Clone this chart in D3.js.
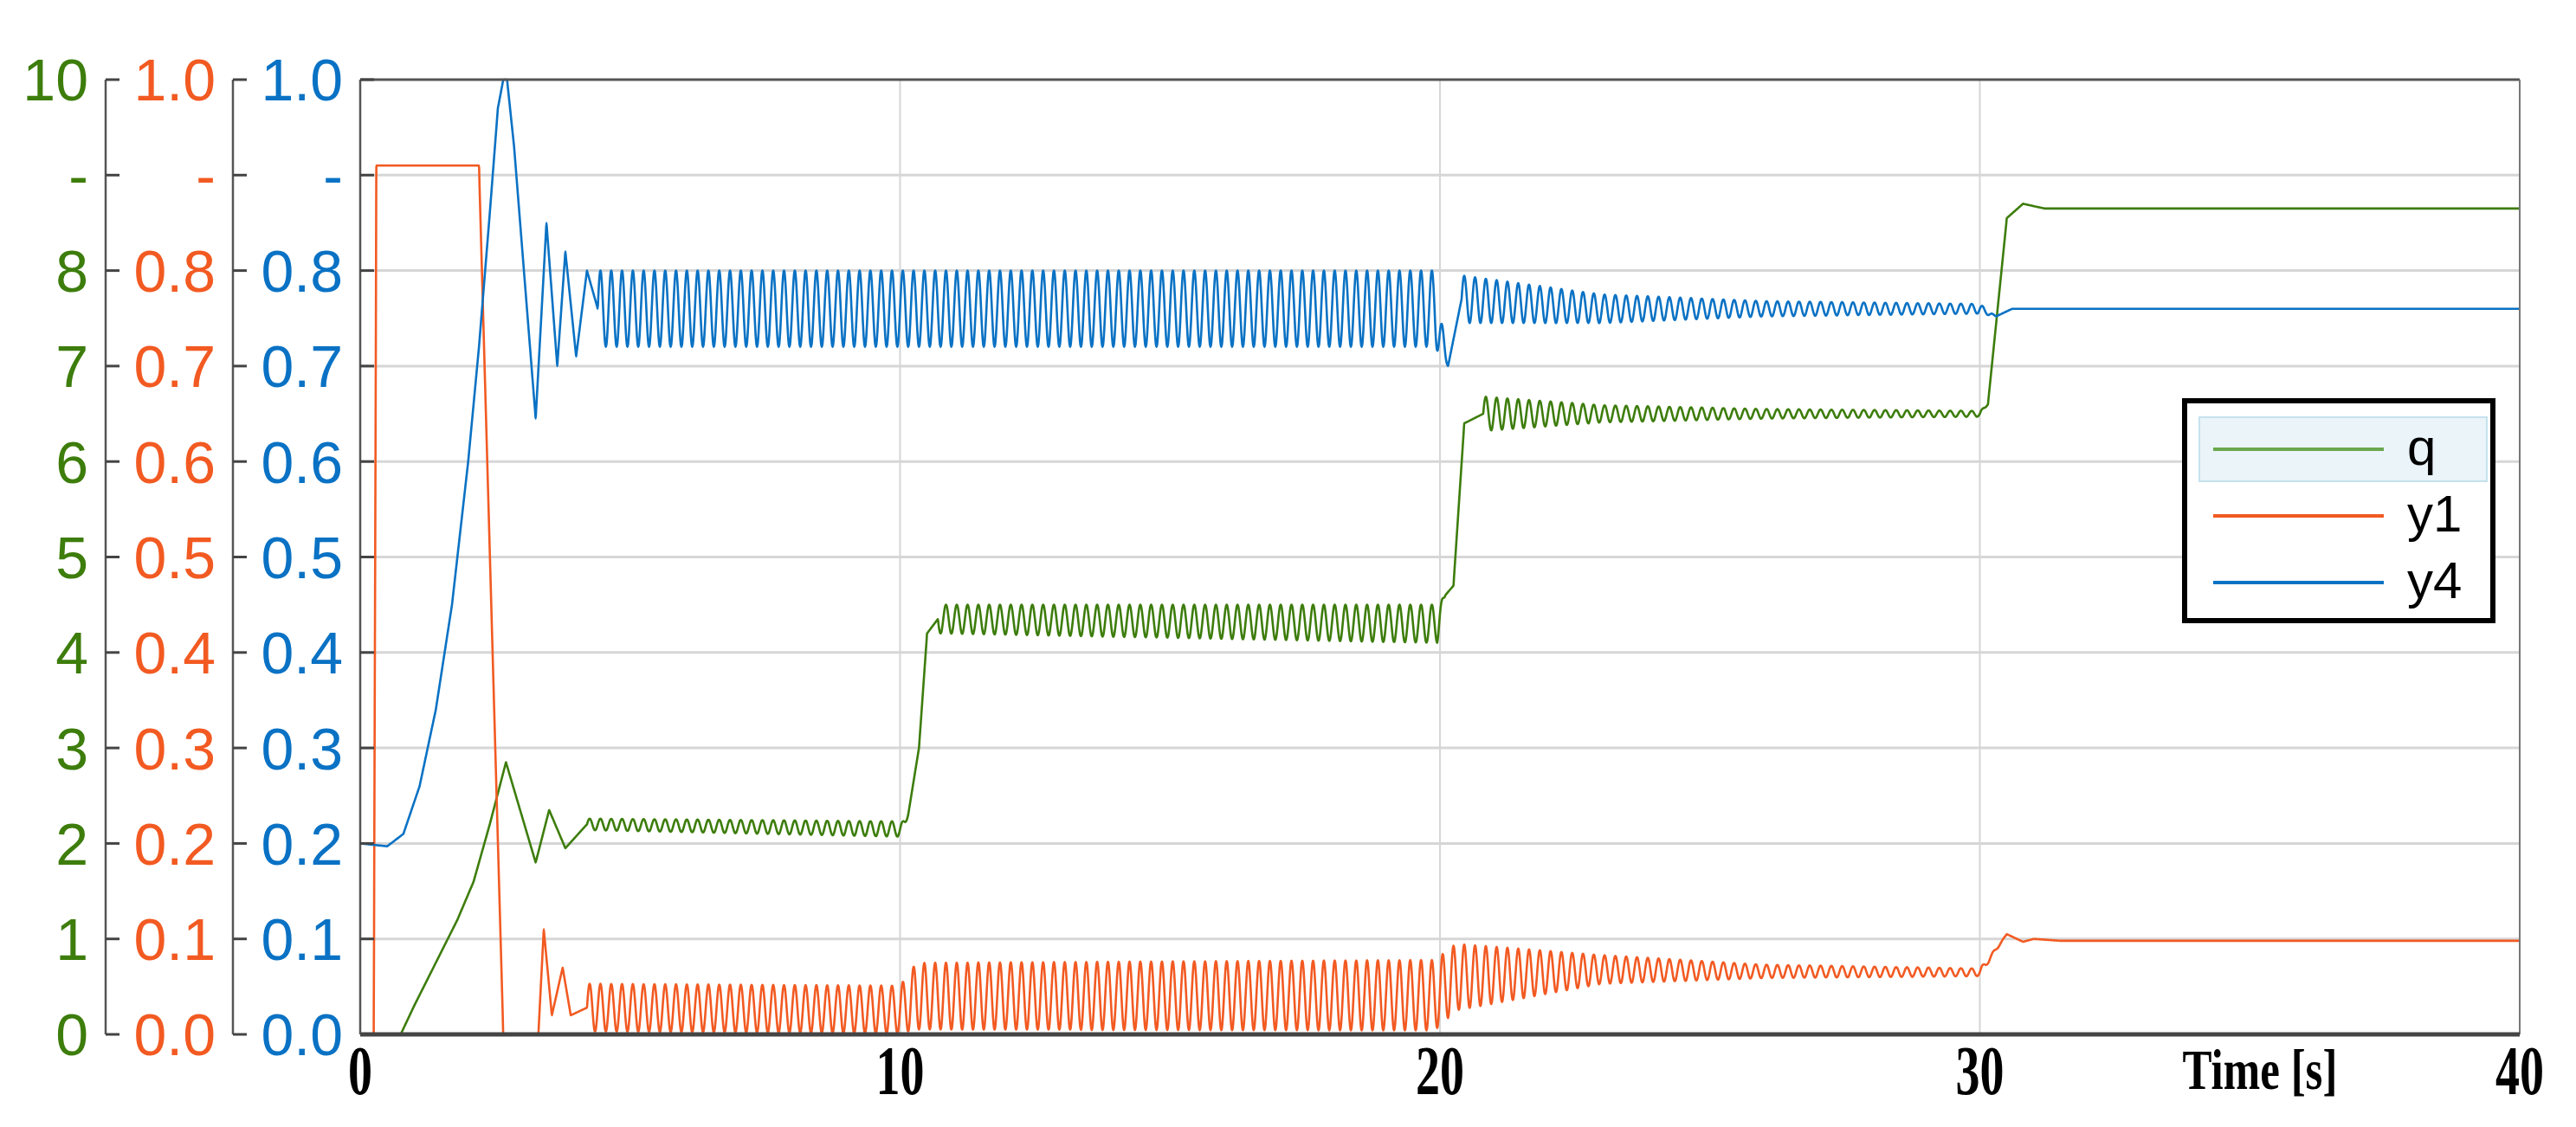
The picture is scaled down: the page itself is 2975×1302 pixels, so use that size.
<!DOCTYPE html>
<html><head><meta charset="utf-8">
<script src="https://cdn.jsdelivr.net/npm/d3@7"></script>
<style>body{margin:0;background:#fff}</style></head>
<body><svg id="c" width="2975" height="1302"></svg>
<script>
// x ticks
const timeTicks = [0, 10, 20, 30, 40];
const qTicks = [0, 1, 2, 3, 4, 5, 6, 7, 8, 9, 10];
const yTicks = [0, 0.1, 0.2, 0.3, 0.4, 0.5, 0.6, 0.7, 0.8, 0.9, 1.0];
const period = 0.2;
// key points per series: [t, mean, oscillation amplitude]
const qKeys = [[0,0,0],[0.75,0,0],[1.0,0.3,0],[1.4,0.75,0],[1.8,1.2,0],[2.1,1.6,0],[2.4,2.2,0],[2.7,2.85,0],[3.25,1.8,0],[3.5,2.35,0],
  [3.8,1.95,0],[4.2,2.2,0.06],[10.05,2.15,0.08],[10.15,2.3,0],[10.35,3.0,0],[10.5,4.2,0],[10.7,4.35,0.15],[19.95,4.3,0.2],
  [20.1,4.6,0],[20.25,4.7,0],[20.45,6.4,0],[20.8,6.5,0.18],[23,6.5,0.09],[26,6.5,0.05],[30,6.5,0.03],
  [30.15,6.6,0],[30.5,8.55,0],[30.8,8.7,0],[31.2,8.65,0],[40,8.65,0]];
const y1Keys = [[0,0,0],[0.25,0,0],[0.3,0.91,0],[2.2,0.91,0],[2.65,0,0],[3.3,0,0],[3.4,0.11,0],[3.55,0.02,0],
  [3.75,0.07,0],[3.9,0.02,0],[4.2,0.028,0.025],[10.0,0.026,0.025],[10.3,0.04,0.035],[19.9,0.041,0.037],
  [20.3,0.06,0.035],[23,0.068,0.015],[26,0.066,0.007],[30,0.065,0.004],[30.5,0.105,0],[30.8,0.097,0],[31,0.1,0],[31.5,0.098,0],[40,0.098,0]];
const y4Keys = [[0,0.2,0],[0.5,0.197,0],[0.8,0.21,0],[1.1,0.26,0],[1.4,0.34,0],[1.7,0.45,0],[2.0,0.6,0],[2.2,0.72,0],[2.4,0.86,0],[2.55,0.97,0],[2.65,1.0,0],[2.72,1.0,0],[2.85,0.93,0],
  [3.25,0.645,0],[3.45,0.85,0],[3.65,0.7,0],[3.8,0.82,0],[4.0,0.71,0],[4.2,0.8,0],[4.4,0.76,0.04],[19.9,0.76,0.04],
  [20.15,0.70,0],[20.4,0.77,0.025],[23,0.76,0.015],[26,0.76,0.008],[30,0.76,0.005],[30.3,0.752,0],[30.6,0.76,0],[40,0.76,0]];

const svg = d3.select("#c");
const L = 416, R = 2910, T = 92, B = 1195;
const green = "#3d7d0c", orange = "#f25a22", blue = "#0a72c4";
const x = d3.scaleLinear().domain([0, 40]).range([L, R]);
const yq = d3.scaleLinear().domain([0, 10]).range([B, T]);
const yy = d3.scaleLinear().domain([0, 1]).range([B, T]);

// grid
svg.append("g").selectAll("line").data(yTicks.slice(1, -1)).join("line")
  .attr("x1", L).attr("x2", R).attr("y1", d => yy(d)).attr("y2", d => yy(d))
  .attr("stroke", "#d6d6d6").attr("stroke-width", 3);
svg.append("g").selectAll("line").data(timeTicks.slice(1, -1)).join("line")
  .attr("x1", d => x(d)).attr("x2", d => x(d)).attr("y1", T).attr("y2", B)
  .attr("stroke", "#d6d6d6").attr("stroke-width", 2);

function sample(keys) {
  const pts = [];
  for (let i = 0; i < keys.length - 1; i++) {
    const [t0, m0, a0] = keys[i], [t1, m1, a1] = keys[i + 1];
    const n = Math.max(2, Math.round((t1 - t0) / 0.01));
    for (let j = 0; j < n; j++) {
      const f = j / n, t = t0 + f * (t1 - t0);
      const a = a0 > 0 ? a0 + f * (a1 - a0) : 0;
      pts.push([t, m0 + f * (m1 - m0) + a * Math.sin(2 * Math.PI * t / period)]);
    }
  }
  const last = keys[keys.length - 1];
  pts.push([last[0], last[1]]);
  return pts;
}
function drawLine(keys, ys, col) {
  svg.append("path").datum(sample(keys))
    .attr("d", d3.line().curve(d3.curveMonotoneX).x(d => x(d[0])).y(d => ys(d[1])))
    .attr("fill", "none").attr("stroke", col).attr("stroke-width", 2.6);
}
drawLine(qKeys, yq, green);
drawLine(y1Keys, yy, orange);
drawLine(y4Keys, yy, blue);

// frame
svg.append("line").attr("x1", L).attr("x2", R).attr("y1", T).attr("y2", T).attr("stroke", "#555").attr("stroke-width", 3);
svg.append("line").attr("x1", R).attr("x2", R).attr("y1", T).attr("y2", B).attr("stroke", "#777").attr("stroke-width", 2);
svg.append("line").attr("x1", L).attr("x2", R).attr("y1", B).attr("y2", B).attr("stroke", "#444").attr("stroke-width", 5);

// y axes
function yAxis(ax, scale, ticks, fmt, col) {
  const g = svg.append("g").attr("transform", `translate(${ax},0)`);
  g.append("line").attr("y1", T).attr("y2", B).attr("stroke", "#555").attr("stroke-width", 2.5);
  g.selectAll("line.t").data(ticks).join("line").attr("class", "t")
    .attr("x1", 0).attr("x2", 16).attr("y1", d => scale(d)).attr("y2", d => scale(d))
    .attr("stroke", "#444").attr("stroke-width", 3);
  g.selectAll("text").data(ticks).join("text")
    .attr("x", -20).attr("y", d => scale(d)).attr("dy", "0.36em")
    .attr("text-anchor", "end").attr("fill", col)
    .style("font-family", "Arial, 'Liberation Sans', sans-serif").style("font-size", "68px")
    .text(fmt);
}
yAxis(122, yq, qTicks, d => d === 9 ? "-" : d3.format("d")(d), green);
yAxis(269, yy, yTicks, d => Math.abs(d - 0.9) < 1e-9 ? "-" : d3.format(".1f")(d), orange);
yAxis(L, yy, yTicks, d => Math.abs(d - 0.9) < 1e-9 ? "-" : d3.format(".1f")(d), blue);

// x labels
svg.append("g").selectAll("text").data(timeTicks).join("text")
  .attr("x", d => x(d)).attr("y", 1264).attr("text-anchor", "middle")
  .style("font-family", "'Liberation Serif', 'Times New Roman', serif").style("font-size", "70px").style("font-weight", "bold")
  .attr("transform", d => `translate(${x(d)},1264) scale(0.8,1.15) translate(${-x(d)},-1264)`)
  .text(d => d);
svg.append("text").attr("x", 2610).attr("y", 1258).attr("text-anchor", "middle")
  .style("font-family", "'Liberation Serif', 'Times New Roman', serif").style("font-size", "60px").style("font-weight", "bold")
  .attr("transform", "translate(2610,1258) scale(0.85,1.1) translate(-2610,-1258)")
  .text("Time [s]");

// legend
const legend = [["q", "#6aa84f"], ["y1", orange], ["y4", blue]];
const lg = svg.append("g");
lg.append("rect").attr("x", 2523).attr("y", 463).attr("width", 356).attr("height", 254)
  .attr("fill", "#fff").attr("stroke", "#000").attr("stroke-width", 6);
lg.append("rect").attr("x", 2540).attr("y", 482).attr("width", 332).attr("height", 74)
  .attr("fill", "#eaf4f9").attr("stroke", "#c5e2ee").attr("stroke-width", 2);
legend.forEach(([name, col], i) => {
  const yy0 = 519 + i * 77;
  lg.append("line").attr("x1", 2556).attr("x2", 2753).attr("y1", yy0).attr("y2", yy0).attr("stroke", col).attr("stroke-width", 4);
  lg.append("text").attr("x", 2780).attr("y", yy0).attr("dy", "0.3em")
    .style("font-family", "Arial, 'Liberation Sans', sans-serif").style("font-size", "60px").text(name);
});
</script></body></html>
